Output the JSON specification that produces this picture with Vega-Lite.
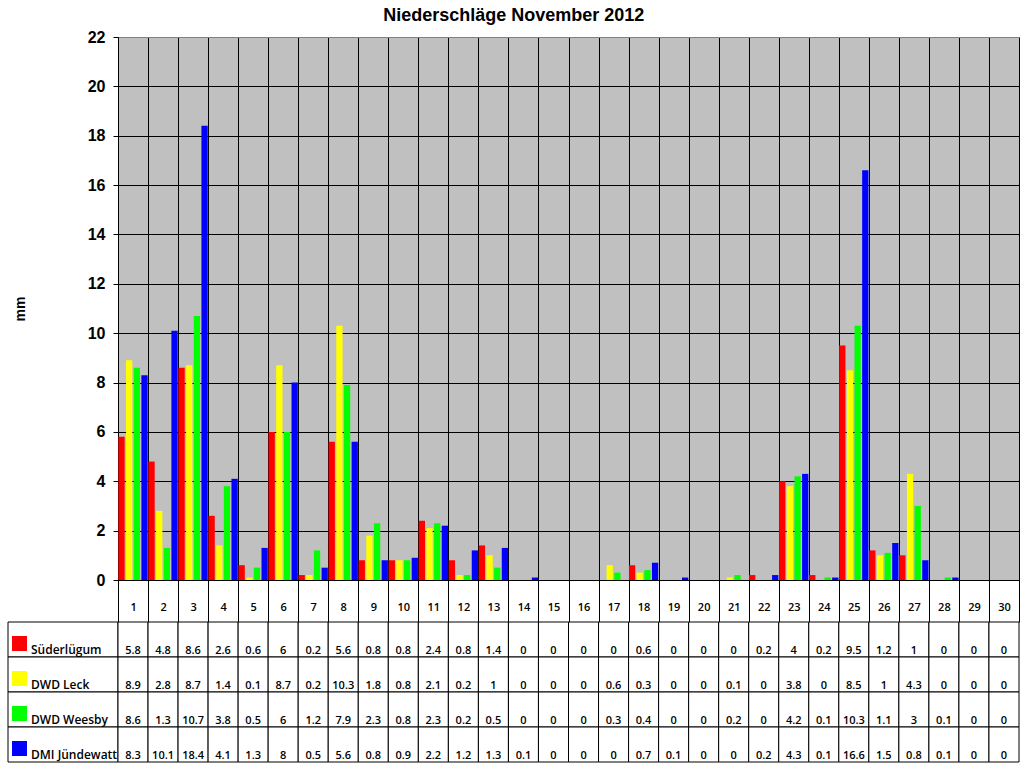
{
  "$schema": "https://vega.github.io/schema/vega-lite/v6.json",
  "background": "white",
  "padding": {"left": 7, "top": 6, "right": 5, "bottom": 6},
  "title": {
    "text": "Niederschläge November 2012",
    "anchor": "middle",
    "font": "Liberation Sans",
    "fontSize": 18,
    "fontWeight": "bold",
    "color": "black",
    "offset": 4
  },
  "datasets": {
    "rain": [
      {"day": 1, "station": "Süderlügum", "mm": 5.8}, {"day": 1, "station": "DWD Leck", "mm": 8.9}, {"day": 1, "station": "DWD Weesby", "mm": 8.6}, {"day": 1, "station": "DMI Jündewatt", "mm": 8.3},
      {"day": 2, "station": "Süderlügum", "mm": 4.8}, {"day": 2, "station": "DWD Leck", "mm": 2.8}, {"day": 2, "station": "DWD Weesby", "mm": 1.3}, {"day": 2, "station": "DMI Jündewatt", "mm": 10.1},
      {"day": 3, "station": "Süderlügum", "mm": 8.6}, {"day": 3, "station": "DWD Leck", "mm": 8.7}, {"day": 3, "station": "DWD Weesby", "mm": 10.7}, {"day": 3, "station": "DMI Jündewatt", "mm": 18.4},
      {"day": 4, "station": "Süderlügum", "mm": 2.6}, {"day": 4, "station": "DWD Leck", "mm": 1.4}, {"day": 4, "station": "DWD Weesby", "mm": 3.8}, {"day": 4, "station": "DMI Jündewatt", "mm": 4.1},
      {"day": 5, "station": "Süderlügum", "mm": 0.6}, {"day": 5, "station": "DWD Leck", "mm": 0.1}, {"day": 5, "station": "DWD Weesby", "mm": 0.5}, {"day": 5, "station": "DMI Jündewatt", "mm": 1.3},
      {"day": 6, "station": "Süderlügum", "mm": 6}, {"day": 6, "station": "DWD Leck", "mm": 8.7}, {"day": 6, "station": "DWD Weesby", "mm": 6}, {"day": 6, "station": "DMI Jündewatt", "mm": 8},
      {"day": 7, "station": "Süderlügum", "mm": 0.2}, {"day": 7, "station": "DWD Leck", "mm": 0.2}, {"day": 7, "station": "DWD Weesby", "mm": 1.2}, {"day": 7, "station": "DMI Jündewatt", "mm": 0.5},
      {"day": 8, "station": "Süderlügum", "mm": 5.6}, {"day": 8, "station": "DWD Leck", "mm": 10.3}, {"day": 8, "station": "DWD Weesby", "mm": 7.9}, {"day": 8, "station": "DMI Jündewatt", "mm": 5.6},
      {"day": 9, "station": "Süderlügum", "mm": 0.8}, {"day": 9, "station": "DWD Leck", "mm": 1.8}, {"day": 9, "station": "DWD Weesby", "mm": 2.3}, {"day": 9, "station": "DMI Jündewatt", "mm": 0.8},
      {"day": 10, "station": "Süderlügum", "mm": 0.8}, {"day": 10, "station": "DWD Leck", "mm": 0.8}, {"day": 10, "station": "DWD Weesby", "mm": 0.8}, {"day": 10, "station": "DMI Jündewatt", "mm": 0.9},
      {"day": 11, "station": "Süderlügum", "mm": 2.4}, {"day": 11, "station": "DWD Leck", "mm": 2.1}, {"day": 11, "station": "DWD Weesby", "mm": 2.3}, {"day": 11, "station": "DMI Jündewatt", "mm": 2.2},
      {"day": 12, "station": "Süderlügum", "mm": 0.8}, {"day": 12, "station": "DWD Leck", "mm": 0.2}, {"day": 12, "station": "DWD Weesby", "mm": 0.2}, {"day": 12, "station": "DMI Jündewatt", "mm": 1.2},
      {"day": 13, "station": "Süderlügum", "mm": 1.4}, {"day": 13, "station": "DWD Leck", "mm": 1}, {"day": 13, "station": "DWD Weesby", "mm": 0.5}, {"day": 13, "station": "DMI Jündewatt", "mm": 1.3},
      {"day": 14, "station": "Süderlügum", "mm": 0}, {"day": 14, "station": "DWD Leck", "mm": 0}, {"day": 14, "station": "DWD Weesby", "mm": 0}, {"day": 14, "station": "DMI Jündewatt", "mm": 0.1},
      {"day": 15, "station": "Süderlügum", "mm": 0}, {"day": 15, "station": "DWD Leck", "mm": 0}, {"day": 15, "station": "DWD Weesby", "mm": 0}, {"day": 15, "station": "DMI Jündewatt", "mm": 0},
      {"day": 16, "station": "Süderlügum", "mm": 0}, {"day": 16, "station": "DWD Leck", "mm": 0}, {"day": 16, "station": "DWD Weesby", "mm": 0}, {"day": 16, "station": "DMI Jündewatt", "mm": 0},
      {"day": 17, "station": "Süderlügum", "mm": 0}, {"day": 17, "station": "DWD Leck", "mm": 0.6}, {"day": 17, "station": "DWD Weesby", "mm": 0.3}, {"day": 17, "station": "DMI Jündewatt", "mm": 0},
      {"day": 18, "station": "Süderlügum", "mm": 0.6}, {"day": 18, "station": "DWD Leck", "mm": 0.3}, {"day": 18, "station": "DWD Weesby", "mm": 0.4}, {"day": 18, "station": "DMI Jündewatt", "mm": 0.7},
      {"day": 19, "station": "Süderlügum", "mm": 0}, {"day": 19, "station": "DWD Leck", "mm": 0}, {"day": 19, "station": "DWD Weesby", "mm": 0}, {"day": 19, "station": "DMI Jündewatt", "mm": 0.1},
      {"day": 20, "station": "Süderlügum", "mm": 0}, {"day": 20, "station": "DWD Leck", "mm": 0}, {"day": 20, "station": "DWD Weesby", "mm": 0}, {"day": 20, "station": "DMI Jündewatt", "mm": 0},
      {"day": 21, "station": "Süderlügum", "mm": 0}, {"day": 21, "station": "DWD Leck", "mm": 0.1}, {"day": 21, "station": "DWD Weesby", "mm": 0.2}, {"day": 21, "station": "DMI Jündewatt", "mm": 0},
      {"day": 22, "station": "Süderlügum", "mm": 0.2}, {"day": 22, "station": "DWD Leck", "mm": 0}, {"day": 22, "station": "DWD Weesby", "mm": 0}, {"day": 22, "station": "DMI Jündewatt", "mm": 0.2},
      {"day": 23, "station": "Süderlügum", "mm": 4}, {"day": 23, "station": "DWD Leck", "mm": 3.8}, {"day": 23, "station": "DWD Weesby", "mm": 4.2}, {"day": 23, "station": "DMI Jündewatt", "mm": 4.3},
      {"day": 24, "station": "Süderlügum", "mm": 0.2}, {"day": 24, "station": "DWD Leck", "mm": 0}, {"day": 24, "station": "DWD Weesby", "mm": 0.1}, {"day": 24, "station": "DMI Jündewatt", "mm": 0.1},
      {"day": 25, "station": "Süderlügum", "mm": 9.5}, {"day": 25, "station": "DWD Leck", "mm": 8.5}, {"day": 25, "station": "DWD Weesby", "mm": 10.3}, {"day": 25, "station": "DMI Jündewatt", "mm": 16.6},
      {"day": 26, "station": "Süderlügum", "mm": 1.2}, {"day": 26, "station": "DWD Leck", "mm": 1}, {"day": 26, "station": "DWD Weesby", "mm": 1.1}, {"day": 26, "station": "DMI Jündewatt", "mm": 1.5},
      {"day": 27, "station": "Süderlügum", "mm": 1}, {"day": 27, "station": "DWD Leck", "mm": 4.3}, {"day": 27, "station": "DWD Weesby", "mm": 3}, {"day": 27, "station": "DMI Jündewatt", "mm": 0.8},
      {"day": 28, "station": "Süderlügum", "mm": 0}, {"day": 28, "station": "DWD Leck", "mm": 0}, {"day": 28, "station": "DWD Weesby", "mm": 0.1}, {"day": 28, "station": "DMI Jündewatt", "mm": 0.1},
      {"day": 29, "station": "Süderlügum", "mm": 0}, {"day": 29, "station": "DWD Leck", "mm": 0}, {"day": 29, "station": "DWD Weesby", "mm": 0}, {"day": 29, "station": "DMI Jündewatt", "mm": 0},
      {"day": 30, "station": "Süderlügum", "mm": 0}, {"day": 30, "station": "DWD Leck", "mm": 0}, {"day": 30, "station": "DWD Weesby", "mm": 0}, {"day": 30, "station": "DMI Jündewatt", "mm": 0}
    ]
  },
  "columns": 2,
  "spacing": {"row": 42, "column": 0},
  "bounds": "flush",
  "config": {"view": {"stroke": null}, "font": "Open Sans"},
  "concat": [
    {
      "width": 110,
      "height": 543,
      "data": {"values": []},
      "mark": "point",
      "encoding": {}
    },
    {
      "width": 901,
      "height": 543,
      "data": {"name": "rain"},
      "view": {"fill": "#c0c0c0", "stroke": "#808080"},
      "mark": {"type": "bar"},
      "encoding": {
        "x": {
          "field": "day",
          "type": "ordinal",
          "scale": {"paddingInner": 0, "paddingOuter": 0},
          "axis": {
            "title": null,
            "labelAngle": 0,
            "labelFont": "Open Sans",
            "labelFontSize": 11,
            "labelFontWeight": 600,
            "labelColor": "black",
            "labelPadding": -21,
            "tickBand": "extent",
            "tickSize": 42,
            "tickColor": "black",
            "domainColor": "black",
            "grid": true,
            "gridColor": "black",
            "gridOpacity": 1
          }
        },
        "xOffset": {
          "field": "station",
          "type": "nominal",
          "scale": {
            "domain": ["Süderlügum", "DWD Leck", "DWD Weesby", "DMI Jündewatt"],
            "paddingInner": 0.18,
            "paddingOuter": 0.05
          }
        },
        "y": {
          "field": "mm",
          "type": "quantitative",
          "scale": {"domain": [0, 22], "nice": false},
          "axis": {
            "values": [0, 2, 4, 6, 8, 10, 12, 14, 16, 18, 20, 22],
            "title": "mm",
            "titleFont": "Liberation Sans",
            "titleFontSize": 14,
            "titleFontWeight": "bold",
            "titleColor": "black",
            "titlePadding": 60,
            "labelFont": "Liberation Sans",
            "labelFontSize": 16,
            "labelFontWeight": "bold",
            "labelColor": "black",
            "labelPadding": 8,
            "tickSize": 5,
            "tickColor": "black",
            "domainColor": "black",
            "gridColor": {"condition": {"test": "datum.value === 22", "value": "#808080"}, "value": "black"},
            "gridOpacity": 1
          }
        },
        "color": {
          "field": "station",
          "type": "nominal",
          "scale": {
            "domain": ["Süderlügum", "DWD Leck", "DWD Weesby", "DMI Jündewatt"],
            "range": ["#ff0000", "#ffff00", "#00ff00", "#0000ff"]
          },
          "legend": null
        }
      }
    },
    {
      "width": 110,
      "height": 140,
      "data": {"name": "rain"},
      "transform": [{"filter": "datum.day == 1"}],
      "encoding": {
        "y": {
          "field": "station",
          "type": "nominal",
          "sort": ["Süderlügum", "DWD Leck", "DWD Weesby", "DMI Jündewatt"],
          "scale": {"paddingInner": 0, "paddingOuter": 0},
          "axis": null
        }
      },
      "layer": [
        {"mark": {"type": "rect", "fill": "white", "stroke": "black", "strokeWidth": 1}},
        {
          "mark": {"type": "point", "shape": "square", "filled": true, "size": 225, "opacity": 1, "xOffset": -43.5, "yOffset": 4},
          "encoding": {
            "color": {
              "field": "station",
              "type": "nominal",
              "scale": {
                "domain": ["Süderlügum", "DWD Leck", "DWD Weesby", "DMI Jündewatt"],
                "range": ["#ff0000", "#ffff00", "#00ff00", "#0000ff"]
              },
              "legend": null
            }
          }
        },
        {
          "mark": {"type": "text", "align": "left", "baseline": "alphabetic", "dx": -32, "dy": 14.5, "fontSize": 12, "fontWeight": 600, "color": "black"},
          "encoding": {"text": {"field": "station", "type": "nominal"}}
        }
      ]
    },
    {
      "width": 901,
      "height": 140,
      "data": {"name": "rain"},
      "encoding": {
        "x": {
          "field": "day",
          "type": "ordinal",
          "scale": {"paddingInner": 0, "paddingOuter": 0},
          "axis": null
        },
        "y": {
          "field": "station",
          "type": "nominal",
          "sort": ["Süderlügum", "DWD Leck", "DWD Weesby", "DMI Jündewatt"],
          "scale": {"paddingInner": 0, "paddingOuter": 0},
          "axis": null
        }
      },
      "layer": [
        {"mark": {"type": "rect", "fill": "white", "stroke": "black", "strokeWidth": 1}},
        {
          "mark": {"type": "text", "baseline": "alphabetic", "dy": 14.5, "fontSize": 11, "fontWeight": 600, "color": "black"},
          "encoding": {"text": {"field": "mm", "type": "nominal"}}
        }
      ]
    }
  ]
}
